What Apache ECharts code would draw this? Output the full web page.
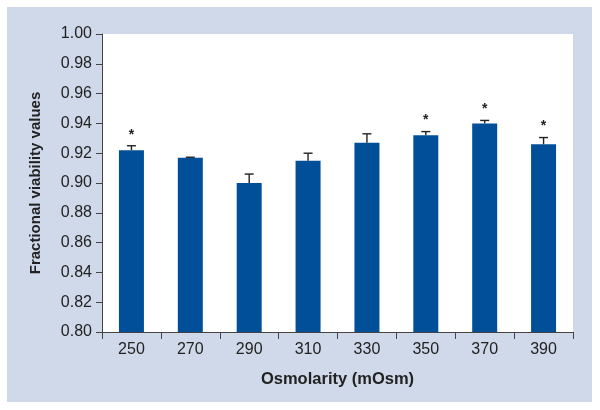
<!DOCTYPE html>
<html>
<head>
<meta charset="utf-8">
<script src="https://cdn.jsdelivr.net/npm/echarts@6/dist/echarts.min.js"></script>
<style>
  html, body { margin: 0; padding: 0; background: #fff; }
  #panel { position: absolute; left: 7px; top: 7px; width: 585px; height: 395px; background: #d0d9e9; }
  #chart { position: absolute; left: 0; top: 0; width: 600px; height: 410px; }
</style>
</head>
<body>
<div id="panel"></div>
<div id="chart"></div>
<script>
// osmolarity groups (mOsm)
var categories = ['250', '270', '290', '310', '330', '350', '370', '390'];
// mean fractional viability
var values = [0.922, 0.917, 0.900, 0.915, 0.927, 0.932, 0.940, 0.926];
// upper error (SD) above the mean
var errors = [0.003, 0.0003, 0.006, 0.005, 0.006, 0.0025, 0.002, 0.0045];
// significance marks
var marks = ['*', '', '', '', '', '*', '*', '*'];
var yTicks = [0.80, 0.82, 0.84, 0.86, 0.88, 0.90, 0.92, 0.94, 0.96, 0.98, 1.00];

var myChart = echarts.init(document.getElementById('chart'));

var errData = values.map(function (v, i) {
    return [i, v, v + errors[i]];
});

var font = 'Liberation Sans, Arial, Helvetica, sans-serif';

var option = {
    backgroundColor: 'transparent',
    animation: false,
    grid: {
        left: 102, right: 27, top: 34, bottom: 78,
        show: true, backgroundColor: '#ffffff', borderWidth: 0
    },
    xAxis: {
        type: 'category',
        data: categories,
        name: 'Osmolarity (mOsm)',
        nameLocation: 'middle',
        nameGap: 39,
        nameTextStyle: { fontFamily: font, fontSize: 16.5, fontWeight: 'bold', color: '#222' },
        axisLine: { lineStyle: { color: '#444', width: 1 } },
        axisTick: { show: true, length: 7, lineStyle: { color: '#444' } },
        axisLabel: { fontFamily: font, fontSize: 16, color: '#222', margin: 10 },
        splitLine: { show: false }
    },
    yAxis: {
        type: 'value',
        min: yTicks[0],
        max: yTicks[yTicks.length - 1],
        interval: 0.02,
        name: 'Fractional viability values',
        nameLocation: 'middle',
        nameGap: 59,
        nameTextStyle: { fontFamily: font, fontSize: 15, fontWeight: 'bold', color: '#222' },
        axisLine: { show: true, lineStyle: { color: '#444', width: 1 } },
        axisTick: { show: true, length: 6, lineStyle: { color: '#444' } },
        axisLabel: {
            fontFamily: font, fontSize: 16, color: '#222', margin: 10,
            formatter: function (v) { return v.toFixed(2); }
        },
        splitLine: { show: false }
    },
    series: [
        {
            type: 'bar',
            data: values,
            barWidth: 25,
            itemStyle: { color: '#004f98' },
            z: 2
        },
        {
            type: 'custom',
            data: errData,
            z: 3,
            renderItem: function (params, api) {
                var x = api.coord([api.value(0), api.value(1)]);
                var top = api.coord([api.value(0), api.value(2)]);
                var half = 4.5;
                var children = [
                    { type: 'line', shape: { x1: x[0], y1: x[1], x2: top[0], y2: top[1] },
                      style: { stroke: '#222', lineWidth: 1.4 } },
                    { type: 'line', shape: { x1: top[0] - half, y1: top[1], x2: top[0] + half, y2: top[1] },
                      style: { stroke: '#222', lineWidth: 1.4 } }
                ];
                var m = marks[params.dataIndex];
                if (m) {
                    children.push({
                        type: 'text',
                        style: {
                            text: m, x: top[0], y: top[1] - 4,
                            align: 'center', verticalAlign: 'bottom',
                            font: 'bold 14px ' + font, fill: '#222'
                        }
                    });
                }
                return { type: 'group', children: children };
            }
        }
    ]
};

myChart.setOption(option);
</script>
</body>
</html>
